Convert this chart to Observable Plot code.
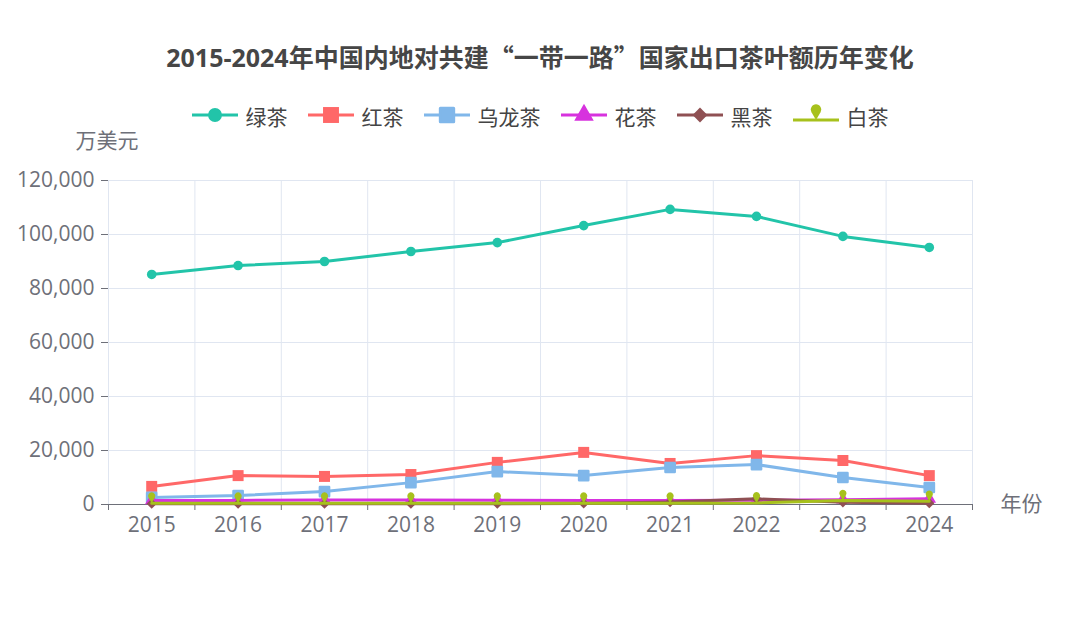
<!DOCTYPE html>
<html>
<head>
<meta charset="utf-8">
<script src="https://cdn.jsdelivr.net/npm/d3@7"></script>
<script src="https://cdn.jsdelivr.net/npm/@observablehq/plot@0.6"></script>
<style>
  html, body { margin: 0; padding: 0; background: #fff; }
  body { width: 1080px; height: 630px; overflow: hidden; font-family: "Open Sans", "Noto Sans CJK SC", sans-serif; }
  #title { position: absolute; left: 0; top: 37px; width: 1080px; text-align: center; font-size: 25px; font-weight: bold; color: #464646; line-height: 38px; font-family: "Open Sans", "Noto Sans CJK SC", sans-serif; z-index: 2; }
  #title .cjk { font-family: "Noto Sans CJK SC", sans-serif; }
  #legend { position: absolute; left: 0; top: 100px; width: 1080px; display: flex; justify-content: center; align-items: center; height: 32px; z-index: 2; }
  .item { display: flex; align-items: center; margin: 0 10px; font-size: 21px; color: #444; font-family: "Noto Sans CJK SC", sans-serif; }
  .item svg { margin-right: 8px; }
  #chart { position: absolute; left: 0; top: 110px; z-index: 1; }
</style>
</head>
<body>
<div id="title"></div>
<div id="legend"></div>
<div id="chart"></div>
<script>
// ---- data ----
const years = [2015, 2016, 2017, 2018, 2019, 2020, 2021, 2022, 2023, 2024];
const seriesNames = ["绿茶", "红茶", "乌龙茶", "花茶", "黑茶", "白茶"];
const greenTea  = [85200, 88500, 90000, 93700, 97000, 103300, 109300, 106700, 99300, 95200];
const redTea    = [6700, 10700, 10400, 11100, 15600, 19300, 15200, 18100, 16300, 10700];
const oolongTea = [2600, 3300, 4800, 8100, 12200, 10700, 13700, 14800, 10000, 6300];
const flowerTea = [1500, 1500, 1700, 1700, 1600, 1500, 1500, 1600, 1800, 2100];
const darkTea   = [300, 300, 300, 300, 300, 400, 900, 2100, 800, 500];
const whiteTea  = [500, 500, 500, 500, 500, 500, 500, 600, 1500, 1200];
const yTicks = [0, 20000, 40000, 60000, 80000, 100000, 120000];
const yUnit = "万美元";
const xUnit = "年份";
const titleText = "2015-2024年中国内地对共建“一带一路”国家出口茶叶额历年变化";

// ---- styles ----
const colors = ["#22c4a9", "#ff6868", "#80b7ea", "#d732de", "#8f5053", "#a7c11c"];
const pin = {
  draw(context, size) {
    const r = Math.sqrt(size / Math.PI);
    const cy = -2 * r;
    context.moveTo(0, 0);
    context.lineTo(r * Math.cos(Math.PI / 6), cy + r * Math.sin(Math.PI / 6));
    context.arc(0, cy, r, Math.PI / 6, 5 * Math.PI / 6, true);
    context.closePath();
  }
};
const symbols = [d3.symbolCircle, d3.symbolSquare, d3.symbolSquare, d3.symbolTriangle, d3.symbolDiamond2, pin];
const symbolNames = ["circle", "square", "square", "triangle", "diamond2", pin];
const radii = [4.8, 6.2, 5.2, 5, 4.6, 3.6];
const allValues = [greenTea, redTea, oolongTea, flowerTea, darkTea, whiteTea];
const axisFont = '"Open Sans", "Noto Sans CJK SC", sans-serif';

// title: full-width quotes rendered in the CJK font
const titleEl = document.getElementById("title");
titleText.split(/([“”])/).forEach(part => {
  if (!part) return;
  if (part === "“" || part === "”") {
    const s = document.createElement("span");
    s.className = "cjk";
    s.textContent = part;
    titleEl.appendChild(s);
  } else {
    titleEl.appendChild(document.createTextNode(part));
  }
});

// ---- legend ----
const legend = document.getElementById("legend");
seriesNames.forEach((name, i) => {
  const item = document.createElement("div");
  item.className = "item";
  const r = radii[i] * 1.45;
  const path = d3.symbol(symbols[i], r * r * Math.PI)();
  const cy = i === 5 ? 17 : 12;
  item.innerHTML = `<svg width="46" height="26" viewBox="0 0 46 26">
    <line x1="0" x2="46" y1="${cy}" y2="${cy}" stroke="${colors[i]}" stroke-width="3"/>
    <path d="${path}" transform="translate(23,${cy})" fill="${colors[i]}" ${i === 2 ? `stroke="${colors[i]}" stroke-width="3" stroke-linejoin="round"` : ""}/>
  </svg><span>${name}</span>`;
  legend.appendChild(item);
});

// ---- chart ----
const data = [];
seriesNames.forEach((s, k) => years.forEach((y, j) => data.push({series: s, year: y, value: allValues[k][j], k})));
const bounds = years.map(y => y - 0.5).concat([years[years.length - 1] + 0.5]);

const marks = [
  Plot.gridY(yTicks, {stroke: "#e0e6f1", strokeOpacity: 1}),
  Plot.gridX(bounds, {stroke: "#e0e6f1", strokeOpacity: 1}),
  Plot.axisY({ticks: yTicks, tickFormat: d3.format(","), tickSize: 7, tickPadding: 7, fontSize: 21, color: "#6e7079", label: null}),
  Plot.axisX({ticks: bounds, tickFormat: () => "", tickSize: 6, stroke: "#6e7079", label: null}),
  Plot.axisX({ticks: years, tickFormat: d3.format("d"), tickSize: 0, tickPadding: 13, fontSize: 21, color: "#6e7079", label: null}),
  Plot.ruleY([0], {stroke: "#6e7079", strokeWidth: 1.2}),
  Plot.text([yUnit], {frameAnchor: "top-left", dx: -33, dy: -39, textAnchor: "start", lineAnchor: "middle", fontSize: 21, fill: "#6e7079"}),
  Plot.text([xUnit], {frameAnchor: "bottom-right", dx: 28, dy: 0, textAnchor: "start", lineAnchor: "middle", fontSize: 21, fill: "#6e7079"})
];
seriesNames.forEach((s, k) => {
  const d = data.filter(p => p.k === k);
  marks.push(Plot.line(d, {x: "year", y: "value", stroke: colors[k], strokeWidth: 3, curve: "linear"}));
  marks.push(Plot.dot(d, {x: "year", y: "value", symbol: symbolNames[k], r: radii[k], fill: colors[k],
    stroke: k === 2 ? colors[k] : "none", strokeWidth: k === 2 ? 2.5 : 0, strokeLinejoin: "round"}));
});

const chart = Plot.plot({
  width: 1080,
  height: 520,
  marginTop: 70,
  marginBottom: 126,
  marginLeft: 108,
  marginRight: 108,
  style: {fontFamily: axisFont, background: "transparent", fontSize: "21px"},
  x: {domain: [2014.5, 2024.5], axis: null},
  y: {domain: [0, 120000], axis: null},
  marks
});
document.getElementById("chart").appendChild(chart);
</script>
</body>
</html>
